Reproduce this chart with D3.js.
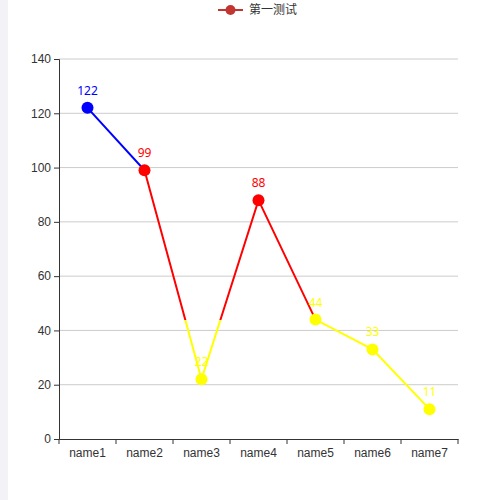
<!DOCTYPE html>
<html>
<head>
<meta charset="utf-8">
<script src="https://cdn.jsdelivr.net/npm/d3@7"></script>
<style>
  body { margin: 0; background: #fff; }
  #strip { position: absolute; left: 0; top: 0; width: 8px; height: 500px; background: #f2f2f7; }
  svg { position: absolute; left: 0; top: 0; font-family: "Noto Sans", "Noto Sans CJK SC", sans-serif; }
</style>
</head>
<body>
<div id="strip"></div>
<div id="container"></div>
<script>
/* DATA */
const categories = ["name1", "name2", "name3", "name4", "name5", "name6", "name7"];
const values = [122, 99, 22, 88, 44, 33, 11];
const seriesName = "第一测试";
const yTicks = [0, 20, 40, 60, 80, 100, 120, 140];
// visual map pieces: value <= 44 yellow, 44..100 red, > 100 blue
const pieceBreaks = [44, 100];
const pieceColors = ["#ffff00", "#ff0000", "#0000ff"];

const width = 500, height = 500,
  margin = {top: 59, right: 42, bottom: 61, left: 59};

function colorOf(v) {
  if (v <= pieceBreaks[0]) return pieceColors[0];
  if (v <= pieceBreaks[1]) return pieceColors[1];
  return pieceColors[2];
}

const svg = d3.select("#container").append("svg")
  .attr("width", width).attr("height", height);

const xScale = d3.scaleBand()
  .domain(categories)
  .range([margin.left, width - margin.right]);

const yScale = d3.scaleLinear()
  .domain([0, 140])
  .range([height - margin.bottom, margin.top]);

// grid lines
svg.append("g").selectAll("line")
  .data(yTicks.filter(d => d > 0))
  .join("line")
  .attr("x1", margin.left).attr("x2", width - margin.right)
  .attr("y1", d => yScale(d)).attr("y2", d => yScale(d))
  .attr("stroke", "#ccc").attr("stroke-width", 1);

// y axis
const yAxis = svg.append("g")
  .attr("transform", `translate(${margin.left},0)`)
  .call(d3.axisLeft(yScale).tickValues(yTicks).tickSize(5).tickPadding(3));
yAxis.select(".domain").attr("stroke", "#333");
yAxis.selectAll(".tick line").attr("stroke", "#333");
yAxis.selectAll(".tick text").attr("fill", "#333").attr("font-size", 12).attr("font-family", null);

// x axis
const xAxis = svg.append("g")
  .attr("transform", `translate(0,${height - margin.bottom})`)
  .call(d3.axisBottom(xScale).tickSize(0).tickPadding(9));
xAxis.select(".domain").attr("stroke", "#333");
xAxis.selectAll(".tick text").attr("fill", "#333").attr("font-size", 12).attr("font-family", null);
xAxis.selectAll("line.bound")
  .data(d3.range(categories.length + 1))
  .join("line")
  .attr("class", "bound")
  .attr("x1", i => margin.left + i * xScale.bandwidth())
  .attr("x2", i => margin.left + i * xScale.bandwidth())
  .attr("y1", 0).attr("y2", 5)
  .attr("stroke", "#333");

// gradient for piecewise line colour
const lo = yScale.domain()[0], hi = yScale.domain()[1];
const grad = svg.append("defs").append("linearGradient")
  .attr("id", "pieces")
  .attr("gradientUnits", "userSpaceOnUse")
  .attr("x1", 0).attr("x2", 0)
  .attr("y1", yScale(lo)).attr("y2", yScale(hi));
const stops = [];
const bounds = [lo, ...pieceBreaks, hi];
for (let i = 0; i < pieceColors.length; i++) {
  stops.push({o: (bounds[i] - lo) / (hi - lo), c: pieceColors[i]});
  stops.push({o: (bounds[i + 1] - lo) / (hi - lo), c: pieceColors[i]});
}
grad.selectAll("stop").data(stops).join("stop")
  .attr("offset", d => d.o).attr("stop-color", d => d.c);

const cx = d => xScale(d.name) + xScale.bandwidth() / 2;
const data = categories.map((name, i) => ({name, value: values[i]}));

svg.append("path")
  .datum(data)
  .attr("fill", "none")
  .attr("stroke", "url(#pieces)")
  .attr("stroke-width", 2)
  .attr("d", d3.line().x(cx).y(d => yScale(d.value)));

svg.append("g").selectAll("circle")
  .data(data)
  .join("circle")
  .attr("cx", cx).attr("cy", d => yScale(d.value))
  .attr("r", 6)
  .attr("fill", d => colorOf(d.value));

svg.append("g").selectAll("text")
  .data(data)
  .join("text")
  .attr("x", cx).attr("y", d => yScale(d.value) - 13)
  .attr("text-anchor", "middle")
  .attr("font-size", 12)
  .attr("fill", d => colorOf(d.value))
  .text(d => d.value);

// legend
const legend = svg.append("g").attr("transform", "translate(218,10)");
legend.append("line").attr("x1", 0).attr("x2", 25).attr("y1", 0).attr("y2", 0)
  .attr("stroke", "#c23531").attr("stroke-width", 2);
legend.append("circle").attr("cx", 12.5).attr("cy", 0).attr("r", 5).attr("fill", "#c23531");
legend.append("text").attr("x", 31).attr("y", 4).attr("font-size", 12).attr("fill", "#333").text(seriesName);
</script>
</body>
</html>
